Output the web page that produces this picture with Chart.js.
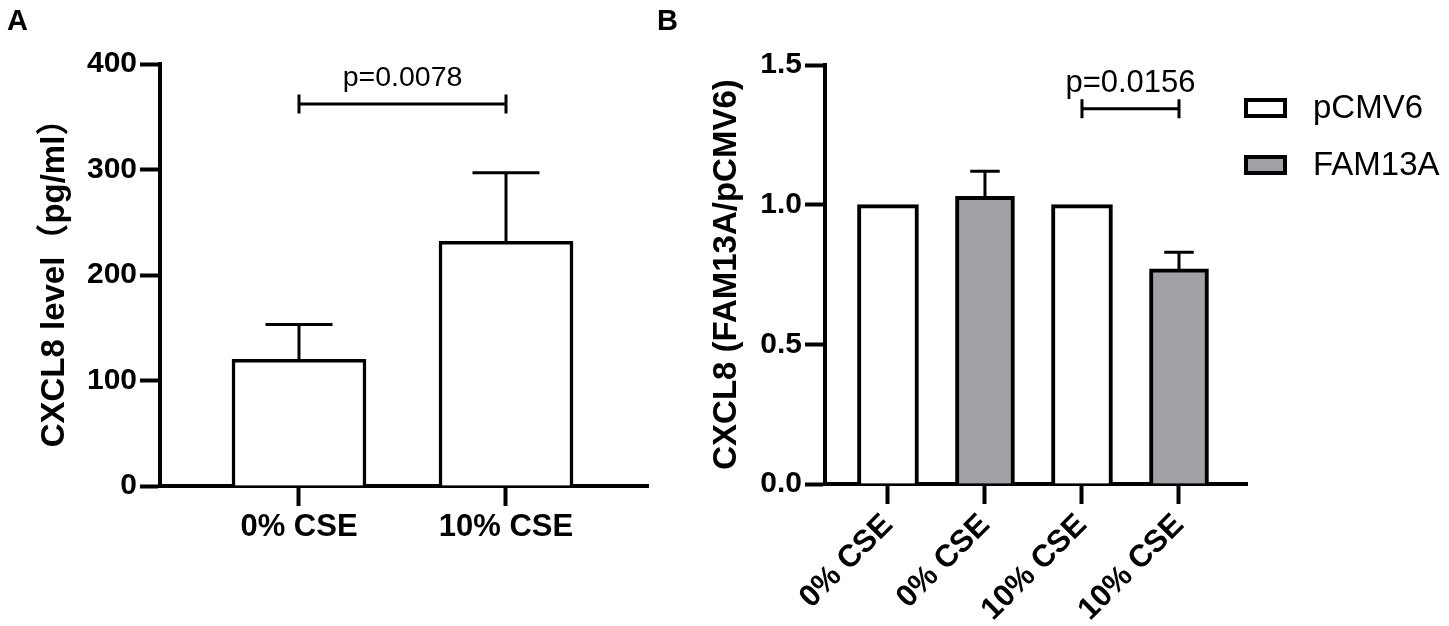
<!DOCTYPE html>
<html>
<head>
<meta charset="utf-8">
<script src="https://cdn.jsdelivr.net/npm/chart.js@4.4.1/dist/chart.umd.min.js"></script>
<style>
  html, body { margin: 0; padding: 0; background: #fff; }
  body { width: 1449px; height: 626px; position: relative; overflow: hidden; }
  canvas { position: absolute; top: 0; }
  #chartA { left: 0; }
  #chartB { left: 640px; }
</style>
</head>
<body>
<canvas id="chartA" width="660" height="626"></canvas>
<canvas id="chartB" width="809" height="626"></canvas>
<script>
// ---- Panel A: CXCL8 level ----
const categoriesA = ['0% CSE', '10% CSE'];
const meanA = [120, 232];
const semA = [33, 65];
const ticksA = [0, 100, 200, 300, 400];
const bracketA = [0, 1];
const bracketAY = 362;
const pValueA = 'p=0.0078';

// ---- Panel B: CXCL8 ratio ----
const categoriesB = ['0% CSE', '0% CSE', '10% CSE', '10% CSE'];
const seriesB = ['pCMV6', 'FAM13A'];
const pcmv6Index = [0, 2];
const pcmv6Mean = [1.00, 1.00];
const pcmv6Sem = [0, 0];
const fam13aIndex = [1, 3];
const fam13aMean = [1.03, 0.77];
const fam13aSem = [0.09, 0.06];
const ticksB = [0, 0.5, 1.0, 1.5];
const bracketB = [2, 3];
const bracketBY = 1.343;
const pValueB = 'p=0.0156';

const FONT = "'Liberation Sans', 'Noto Sans CJK SC', Arial, sans-serif";
const GRAY = '#a2a2a6';

// upper error bars, drawn from the bar top up to mean + sem
const errorBars = {
    id: 'errorBars',
    afterDatasetsDraw(chart, args, opts) {
        const ctx = chart.ctx;
        const yScale = chart.scales.y;
        ctx.save();
        ctx.strokeStyle = '#000';
        ctx.lineWidth = opts.lineWidth || 3;
        chart.data.datasets.forEach((ds, i) => {
            const meta = chart.getDatasetMeta(i);
            meta.data.forEach((bar, j) => {
                const err = ds.errors ? ds.errors[j] : 0;
                if (!err) return;
                const top = yScale.getPixelForValue(ds.data[j].y + err);
                const half = ds.barThickness / 4;
                ctx.beginPath();
                ctx.moveTo(bar.x, bar.y);
                ctx.lineTo(bar.x, top);
                ctx.moveTo(bar.x - half, top);
                ctx.lineTo(bar.x + half, top);
                ctx.stroke();
            });
        });
        ctx.restore();
    }
};

// significance bracket with p value
const bracket = {
    id: 'bracket',
    afterDraw(chart, args, opts) {
        const ctx = chart.ctx;
        const x1 = chart.scales.x.getPixelForValue(opts.from);
        const x2 = chart.scales.x.getPixelForValue(opts.to);
        const y = chart.scales.y.getPixelForValue(opts.y);
        ctx.save();
        ctx.strokeStyle = '#000';
        ctx.lineWidth = 3;
        ctx.beginPath();
        ctx.moveTo(x1, y);
        ctx.lineTo(x2, y);
        ctx.moveTo(x1, y - 9.5);
        ctx.lineTo(x1, y + 9.5);
        ctx.moveTo(x2, y - 9.5);
        ctx.lineTo(x2, y + 9.5);
        ctx.stroke();
        ctx.fillStyle = '#000';
        ctx.font = opts.fontSize + 'px ' + FONT;
        ctx.textAlign = 'center';
        ctx.textBaseline = 'alphabetic';
        ctx.fillText(opts.text, (x1 + x2) / 2, y - opts.gap);
        ctx.restore();
    }
};

const panelLabel = {
    id: 'panelLabel',
    afterDraw(chart, args, opts) {
        const ctx = chart.ctx;
        ctx.save();
        ctx.fillStyle = '#000';
        ctx.font = 'bold 29px ' + FONT;
        ctx.textAlign = 'left';
        ctx.textBaseline = 'alphabetic';
        ctx.fillText(opts.text, opts.x, opts.y);
        ctx.restore();
    }
};

// legend drawn from the datasets
const boxLegend = {
    id: 'boxLegend',
    afterDraw(chart, args, opts) {
        if (!opts.display) return;
        const ctx = chart.ctx;
        ctx.save();
        chart.data.datasets.forEach((ds, i) => {
            const top = opts.y + i * opts.step;
            ctx.fillStyle = ds.backgroundColor;
            ctx.fillRect(opts.x, top, opts.boxW, opts.boxH);
            ctx.strokeStyle = '#000';
            ctx.lineWidth = 4;
            ctx.strokeRect(opts.x + 2, top + 2, opts.boxW - 4, opts.boxH - 4);
            ctx.fillStyle = '#000';
            ctx.font = opts.fontSize + 'px ' + FONT;
            ctx.textAlign = 'left';
            ctx.textBaseline = 'middle';
            ctx.fillText(ds.label, opts.textX, top + opts.boxH / 2 + 1);
        });
        ctx.restore();
    }
};

function axisStyle() {
    return {
        grid: { display: true, drawOnChartArea: false, drawTicks: true, tickLength: 20, tickWidth: 4, tickColor: '#000', offset: false },
        border: { display: true, color: '#000', width: 4 }
    };
}

function makeChart(id, cfg) {
    return new Chart(document.getElementById(id), {
        type: 'bar',
        data: { datasets: cfg.datasets },
        options: {
            responsive: false,
            animation: false,
            layout: { padding: cfg.padding },
            plugins: {
                legend: { display: false },
                tooltip: { enabled: false },
                errorBars: { lineWidth: 3 },
                bracket: cfg.bracket,
                panelLabel: cfg.panel,
                boxLegend: cfg.legend || { display: false }
            },
            scales: {
                x: {
                    type: 'linear',
                    min: cfg.xMin,
                    max: cfg.xMax,
                    offset: false,
                    afterBuildTicks: axis => { axis.ticks = cfg.categories.map((_, i) => ({ value: i })); },
                    afterFit: axis => { axis.height = cfg.xHeight; },
                    ...axisStyle(),
                    ticks: {
                        color: '#000',
                        padding: 3,
                        autoSkip: false,
                        minRotation: cfg.rotation,
                        maxRotation: cfg.rotation,
                        callback: v => cfg.categories[v],
                        font: { family: FONT, size: 31, weight: 'bold' }
                    }
                },
                y: {
                    min: cfg.yTicks[0],
                    max: cfg.yTicks[cfg.yTicks.length - 1],
                    afterBuildTicks: axis => { axis.ticks = cfg.yTicks.map(v => ({ value: v })); },
                    afterFit: axis => { axis.width = cfg.yWidth; },
                    ...axisStyle(),
                    ticks: {
                        color: '#000',
                        padding: 3,
                        callback: cfg.yFormat,
                        font: { family: FONT, size: 30, weight: 'bold' }
                    },
                    title: {
                        display: true,
                        text: cfg.yTitle,
                        color: '#000',
                        padding: { top: cfg.titlePad, bottom: 0 },
                        font: { family: FONT, size: 33, weight: 'bold' }
                    }
                }
            }
        },
        plugins: [errorBars, bracket, panelLabel, boxLegend]
    });
}

makeChart('chartA', {
    datasets: [{
        label: 'CXCL8',
        data: categoriesA.map((_, i) => ({ x: i, y: meanA[i] })),
        errors: semA,
        backgroundColor: '#fff',
        borderColor: '#000',
        borderWidth: 3.5,
        barThickness: 134,
        grouped: false
    }],
    categories: categoriesA,
    padding: { top: 64, right: 12, left: 0, bottom: 0 },
    xMin: -0.6715, xMax: 1.686,
    xHeight: 140,
    rotation: 0,
    yTicks: ticksA,
    yWidth: 160,
    yFormat: v => String(v),
    yTitle: 'CXCL8 level（pg/ml）',
    titlePad: 35,
    bracket: { from: bracketA[0], to: bracketA[1], y: bracketAY, text: pValueA, fontSize: 28.5, gap: 18 },
    panel: { text: 'A', x: 7, y: 30 }
});

makeChart('chartB', {
    datasets: [{
        label: seriesB[0],
        data: pcmv6Index.map((x, i) => ({ x: x, y: pcmv6Mean[i] })),
        errors: pcmv6Sem,
        backgroundColor: '#fff',
        borderColor: '#000',
        borderWidth: 4,
        barThickness: 61,
        grouped: false
    }, {
        label: seriesB[1],
        data: fam13aIndex.map((x, i) => ({ x: x, y: fam13aMean[i] })),
        errors: fam13aSem,
        backgroundColor: GRAY,
        borderColor: '#000',
        borderWidth: 4,
        barThickness: 59,
        grouped: false
    }],
    categories: categoriesB,
    padding: { top: 65, right: 202, left: 0, bottom: 0 },
    xMin: -0.649, xMax: 3.701,
    xHeight: 142,
    rotation: 45,
    yTicks: ticksB,
    yWidth: 185,
    yFormat: v => v.toFixed(1),
    yTitle: 'CXCL8 (FAM13A/pCMV6)',
    titlePad: 67,
    bracket: { from: bracketB[0], to: bracketB[1], y: bracketBY, text: pValueB, fontSize: 31, gap: 17 },
    panel: { text: 'B', x: 17, y: 30 },
    legend: { display: true, x: 604, y: 98, step: 57, boxW: 43, boxH: 20, textX: 673, fontSize: 33 }
});
</script>
</body>
</html>
